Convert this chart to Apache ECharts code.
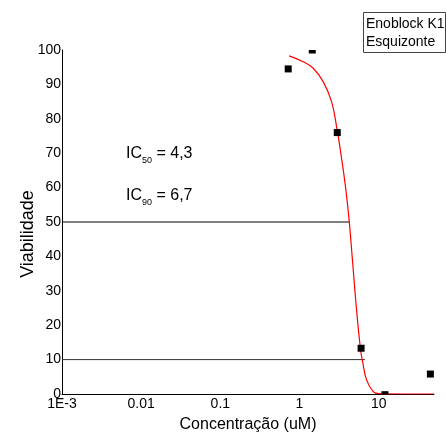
<!DOCTYPE html>
<html>
<head>
<meta charset="utf-8">
<script src="https://cdn.jsdelivr.net/npm/echarts@6/dist/echarts.min.js"></script>
<style>
  html, body { margin: 0; padding: 0; background: #fff; }
  #chart { width: 446px; height: 435px; }
</style>
</head>
<body>
<div id="chart"></div>
<script>
// Measured viability (%) against concentration (uM)
var concentrations = [0.72, 1.45, 3.0, 6.0, 12, 45];
var viability = [94.5, 100, 76, 13.3, -0.2, 5.8];

// Fitted dose-response curve, sampled along its path
var curveConc = [0.74, 1.11, 1.49, 1.99, 2.54, 2.99, 3.35, 3.8, 4.24, 4.7, 5.26, 5.91, 6.27, 7.03, 8.53, 10, 20, 50];
var curveViab = [98.3, 96.6, 94.7, 90.8, 85.0, 76.7, 69.5, 60.5, 50.4, 38.0, 24.4, 12.8, 9.4, 4.1, 0.7, 0.1, 0, 0];

// Inhibitory concentrations
var ic50 = 4.3;
var ic90 = 6.7;

// Axis tick labels
var xTickLabels = ['1E-3', '0.01', '0.1', '1', '10'];
var xMin = 0.001, xMax = 50;

var FONT = 'Liberation Sans, Arial, sans-serif';

function fmt(v) { return String(v).replace('.', ','); }

var chart = echarts.init(document.getElementById('chart'));

var option = {
  backgroundColor: '#fff',
  animation: false,
  grid: { left: 62, top: 50, right: 12, bottom: 41 },
  xAxis: {
    type: 'log',
    logBase: 10,
    min: xMin,
    max: xMax,
    axisLine: { show: true, onZero: false, lineStyle: { color: '#000', width: 1 } },
    axisTick: { show: false },
    splitLine: { show: false },
    minorTick: { show: false },
    axisLabel: {
      margin: 3,
      color: '#000',
      fontFamily: FONT,
      fontSize: 14,
      showMaxLabel: false,
      formatter: function (v) {
        var e = Math.log10(v);
        var r = Math.round(e);
        if (Math.abs(e - r) > 1e-6) return '';
        var idx = r + 3;
        return xTickLabels[idx] !== undefined ? xTickLabels[idx] : '';
      }
    }
  },
  yAxis: {
    type: 'value',
    min: 0,
    max: 100,
    interval: 10,
    axisLine: { show: true, lineStyle: { color: '#000', width: 1 } },
    axisTick: { show: false },
    splitLine: { show: false },
    axisLabel: { margin: 1, color: '#000', fontFamily: FONT, fontSize: 14 }
  },
  series: [
    {
      name: 'IC50',
      type: 'line',
      data: [[xMin, 50], [ic50, 50]],
      symbol: 'none',
      lineStyle: { color: '#000', width: 1 },
      z: 1
    },
    {
      name: 'IC90',
      type: 'line',
      data: [[xMin, 10], [ic90, 10]],
      symbol: 'none',
      lineStyle: { color: '#333', width: 1 },
      z: 1
    },
    {
      name: 'fit',
      type: 'line',
      data: curveConc.map(function (c, i) { return [c, curveViab[i]]; }),
      symbol: 'none',
      smooth: 0.4,
      clip: true,
      lineStyle: { color: '#ff0000', width: 1.2 },
      z: 2
    },
    {
      name: 'Esquizonte',
      type: 'custom',
      clip: true,
      data: concentrations.map(function (c, i) { return [c, viability[i]]; }),
      renderItem: function (params, api) {
        var p = api.coord([api.value(0), api.value(1)]);
        var s = 7;
        var cs = params.coordSys;
        var shape = echarts.graphic.clipRectByRect(
          { x: p[0] - s / 2, y: p[1] - s / 2, width: s, height: s },
          { x: cs.x, y: cs.y, width: cs.width, height: cs.height }
        );
        if (!shape) return null;
        return { type: 'rect', shape: shape, style: { fill: '#000' } };
      },
      z: 3
    }
  ],
  graphic: [
    {
      type: 'text',
      x: 28, y: 234,
      rotation: Math.PI / 2,
      style: {
        text: 'Viabilidade', fill: '#000', font: '18px ' + FONT,
        align: 'center', verticalAlign: 'middle'
      }
    },
    {
      type: 'text',
      x: 248, y: 425,
      style: {
        text: 'Concentração (uM)', fill: '#000', font: '16px ' + FONT,
        align: 'center', verticalAlign: 'middle'
      }
    },
    {
      type: 'text',
      x: 126, y: 146,
      style: {
        text: '{n|IC}{s|50}{n| = ' + fmt(ic50) + '}',
        fill: '#000',
        rich: {
          n: { fontFamily: FONT, fontSize: 16, lineHeight: 16, verticalAlign: 'top' },
          s: { fontFamily: FONT, fontSize: 9, lineHeight: 10, verticalAlign: 'top', padding: [10, 0, 0, 0] }
        }
      }
    },
    {
      type: 'text',
      x: 126, y: 188,
      style: {
        text: '{n|IC}{s|90}{n| = ' + fmt(ic90) + '}',
        fill: '#000',
        rich: {
          n: { fontFamily: FONT, fontSize: 16, lineHeight: 16, verticalAlign: 'top' },
          s: { fontFamily: FONT, fontSize: 9, lineHeight: 10, verticalAlign: 'top', padding: [10, 0, 0, 0] }
        }
      }
    },
    {
      type: 'rect',
      shape: { x: 363.5, y: 12.5, width: 82, height: 40 },
      style: { fill: '#fff', stroke: '#444', lineWidth: 1 }
    },
    {
      type: 'text',
      x: 366, y: 24,
      style: { text: 'Enoblock K1', fill: '#000', font: '14px ' + FONT, verticalAlign: 'middle' }
    },
    {
      type: 'text',
      x: 366, y: 42,
      style: { text: 'Esquizonte', fill: '#000', font: '14px ' + FONT, verticalAlign: 'middle' }
    }
  ]
};

chart.setOption(option);
</script>
</body>
</html>
